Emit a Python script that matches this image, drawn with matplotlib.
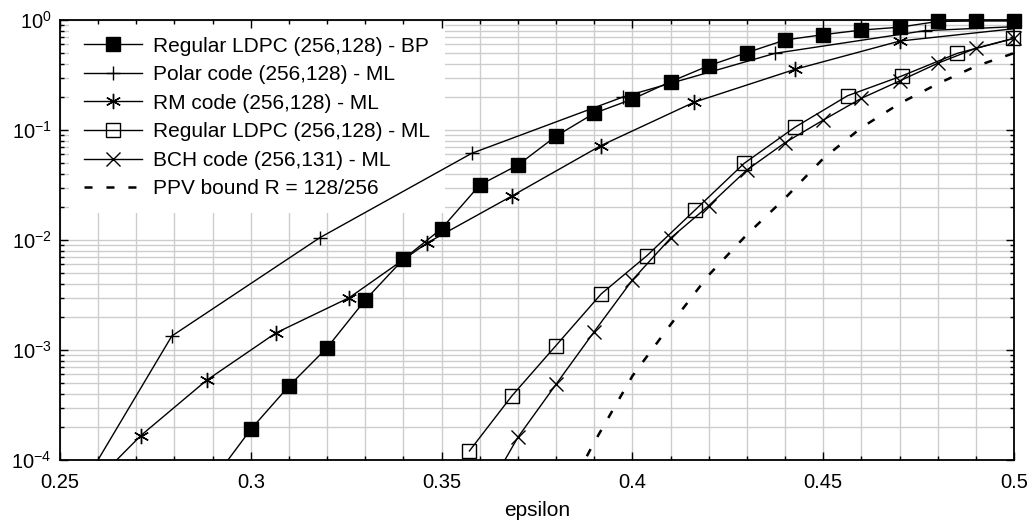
import numpy as np
import matplotlib
matplotlib.use("Agg")
import matplotlib.pyplot as plt
from matplotlib.lines import Line2D
from matplotlib.ticker import MultipleLocator, FixedLocator, FixedFormatter

plt.rcParams['font.family'] = ['Liberation Sans', 'DejaVu Sans']
plt.rcParams['mathtext.fontset'] = 'custom'
plt.rcParams['mathtext.rm'] = 'Liberation Sans'
plt.rcParams['axes.unicode_minus'] = False
plt.rcParams['lines.scale_dashes'] = False

# --- data ---
bp_eps = [0.29, 0.30, 0.31, 0.32, 0.33, 0.34, 0.35, 0.36, 0.37, 0.38, 0.39,
          0.40, 0.41, 0.42, 0.43, 0.44, 0.45, 0.46, 0.47, 0.48, 0.49, 0.50]
bp_err = [6.5e-5, 1.9e-4, 4.7e-4, 1.05e-3, 2.85e-3, 6.7e-3, 0.0127, 0.0316,
          0.048, 0.088, 0.142, 0.191, 0.275, 0.384, 0.505, 0.658, 0.736,
          0.81, 0.86, 0.97, 0.98, 0.98]

polar_eps = [0.240, 0.2793, 0.3181, 0.3579, 0.3976, 0.4374, 0.4767, 0.516]
polar_err = [6.9e-6, 1.34e-3, 0.0105, 0.0614, 0.20, 0.498, 0.80, 0.92]

rm_eps = [0.2525, 0.2712, 0.2884, 0.3066, 0.3258, 0.3463, 0.3684, 0.3917,
          0.4162, 0.4426, 0.4701, 0.52]
rm_err = [3.7e-5, 1.67e-4, 5.3e-4, 1.43e-3, 2.99e-3, 9.45e-3, 0.0251, 0.072,
          0.179, 0.356, 0.644, 0.99]

ml_eps = [0.3573, 0.3684, 0.3799, 0.3918, 0.4038, 0.4164, 0.4293, 0.4426,
          0.4564, 0.4706, 0.4851, 0.4998]
ml_err = [1.21e-4, 3.82e-4, 1.09e-3, 3.23e-3, 7.2e-3, 0.0187, 0.0498, 0.106,
          0.205, 0.31, 0.497, 0.68]

bch_eps = [0.36, 0.37, 0.38, 0.39, 0.40, 0.41, 0.42, 0.43, 0.44, 0.45, 0.46,
           0.47, 0.48, 0.49, 0.50]
bch_err = [4.0e-5, 1.61e-4, 4.88e-4, 1.47e-3, 4.33e-3, 0.0104, 0.0205, 0.0433,
           0.0767, 0.123, 0.194, 0.279, 0.404, 0.553, 0.68]

ppv_eps = [0.38, 0.39, 0.40, 0.41, 0.42, 0.43, 0.44, 0.45, 0.46, 0.47, 0.48,
           0.49, 0.50]
ppv_err = [3.2e-5, 1.45e-4, 5.8e-4, 1.7e-3, 4.8e-3, 0.0112, 0.024, 0.055,
           0.105, 0.174, 0.263, 0.38, 0.5]

labels = ['Regular LDPC (256,128) - BP', 'Polar code (256,128) - ML',
          'RM code (256,128) - ML', 'Regular LDPC (256,128) - ML',
          'BCH code (256,131) - ML', 'PPV bound R = 128/256']
xticks = [0.25, 0.3, 0.35, 0.4, 0.45, 0.5]
xticklabels = ['0.25', '0.3', '0.35', '0.4', '0.45', '0.5']

fig = plt.figure(figsize=(10.36, 5.24), dpi=100)
rect = [60 / 1036, 64 / 524, 954 / 1036, 440 / 524]
ax = fig.add_axes(rect)
ax.set_yscale('log')
ax.set_xlim(0.25, 0.5)
ax.set_ylim(1e-4, 1)

asterisk = (6, 2, 0)
styles = [
    dict(marker='s', ms=10, mfc='k', mec='k'),
    dict(marker='+', ms=10, mec='k', mew=1.0),
    dict(marker=asterisk, ms=11, mec='k', mew=1.0),
    dict(marker='s', ms=9.5, mfc='none', mec='k', mew=1.0),
    dict(marker='x', ms=10, mec='k', mew=1.0),
]
series = [(bp_eps, bp_err), (polar_eps, polar_err), (rm_eps, rm_err),
          (ml_eps, ml_err), (bch_eps, bch_err)]

handles = []
for (xs, ys), st, lab in zip(series, styles, labels):
    xs = np.array(xs)
    ys = np.array(ys)
    ax.plot(xs, ys, color='k', lw=1.0, zorder=3)
    inside = (xs >= 0.25) & (xs <= 0.5001) & (ys >= 1e-4) & (ys <= 1)
    ax.plot(xs[inside], ys[inside], ls='none', clip_on=False, zorder=4, **st)
    handles.append(Line2D([], [], color='k', lw=1.0, label=lab, **st))

ax.plot(ppv_eps, ppv_err, color='k', lw=1.8, dashes=(5.8, 10), zorder=3)
handles.append(Line2D([], [], color='k', lw=1.8, dashes=(5.8, 10), label=labels[5]))

ax.xaxis.set_major_locator(FixedLocator(xticks))
ax.xaxis.set_minor_locator(MultipleLocator(0.01))
ax.grid(which='both', color='#cdcdcd', lw=1.0)
ax.set_axisbelow(True)
ax.tick_params(which='both', length=0, labelleft=False, labelbottom=False)
for sp in ax.spines.values():
    sp.set_visible(False)

leg = ax.legend(handles=handles, loc='upper left',
                bbox_to_anchor=(0.0094, 0.9955),
                borderaxespad=0, borderpad=0.7, fontsize=15, handlelength=2.8,
                handletextpad=0.55, labelspacing=0.46, numpoints=1,
                fancybox=False, framealpha=1, edgecolor='none', facecolor='white')
leg.set_zorder(1)  # above the grid, below the curves

# overlay axes so ticks and spines sit on top of the legend
ax2 = fig.add_axes(rect, sharex=ax, sharey=ax)
ax2.patch.set_visible(False)
ax2.xaxis.set_major_formatter(FixedFormatter(xticklabels))
ax2.tick_params(which='both', direction='in', top=True, right=True,
                labelsize=14.5, width=1.0)
ax2.tick_params(which='major', length=6)
ax2.tick_params(which='minor', length=3.2)
ax2.tick_params(axis='x', pad=9)
ax2.tick_params(axis='y', pad=6)
for sp in ax2.spines.values():
    sp.set_linewidth(1.3)
ax2.set_xlabel('epsilon', fontsize=15, labelpad=7)

fig.savefig('out.png', dpi=100)
